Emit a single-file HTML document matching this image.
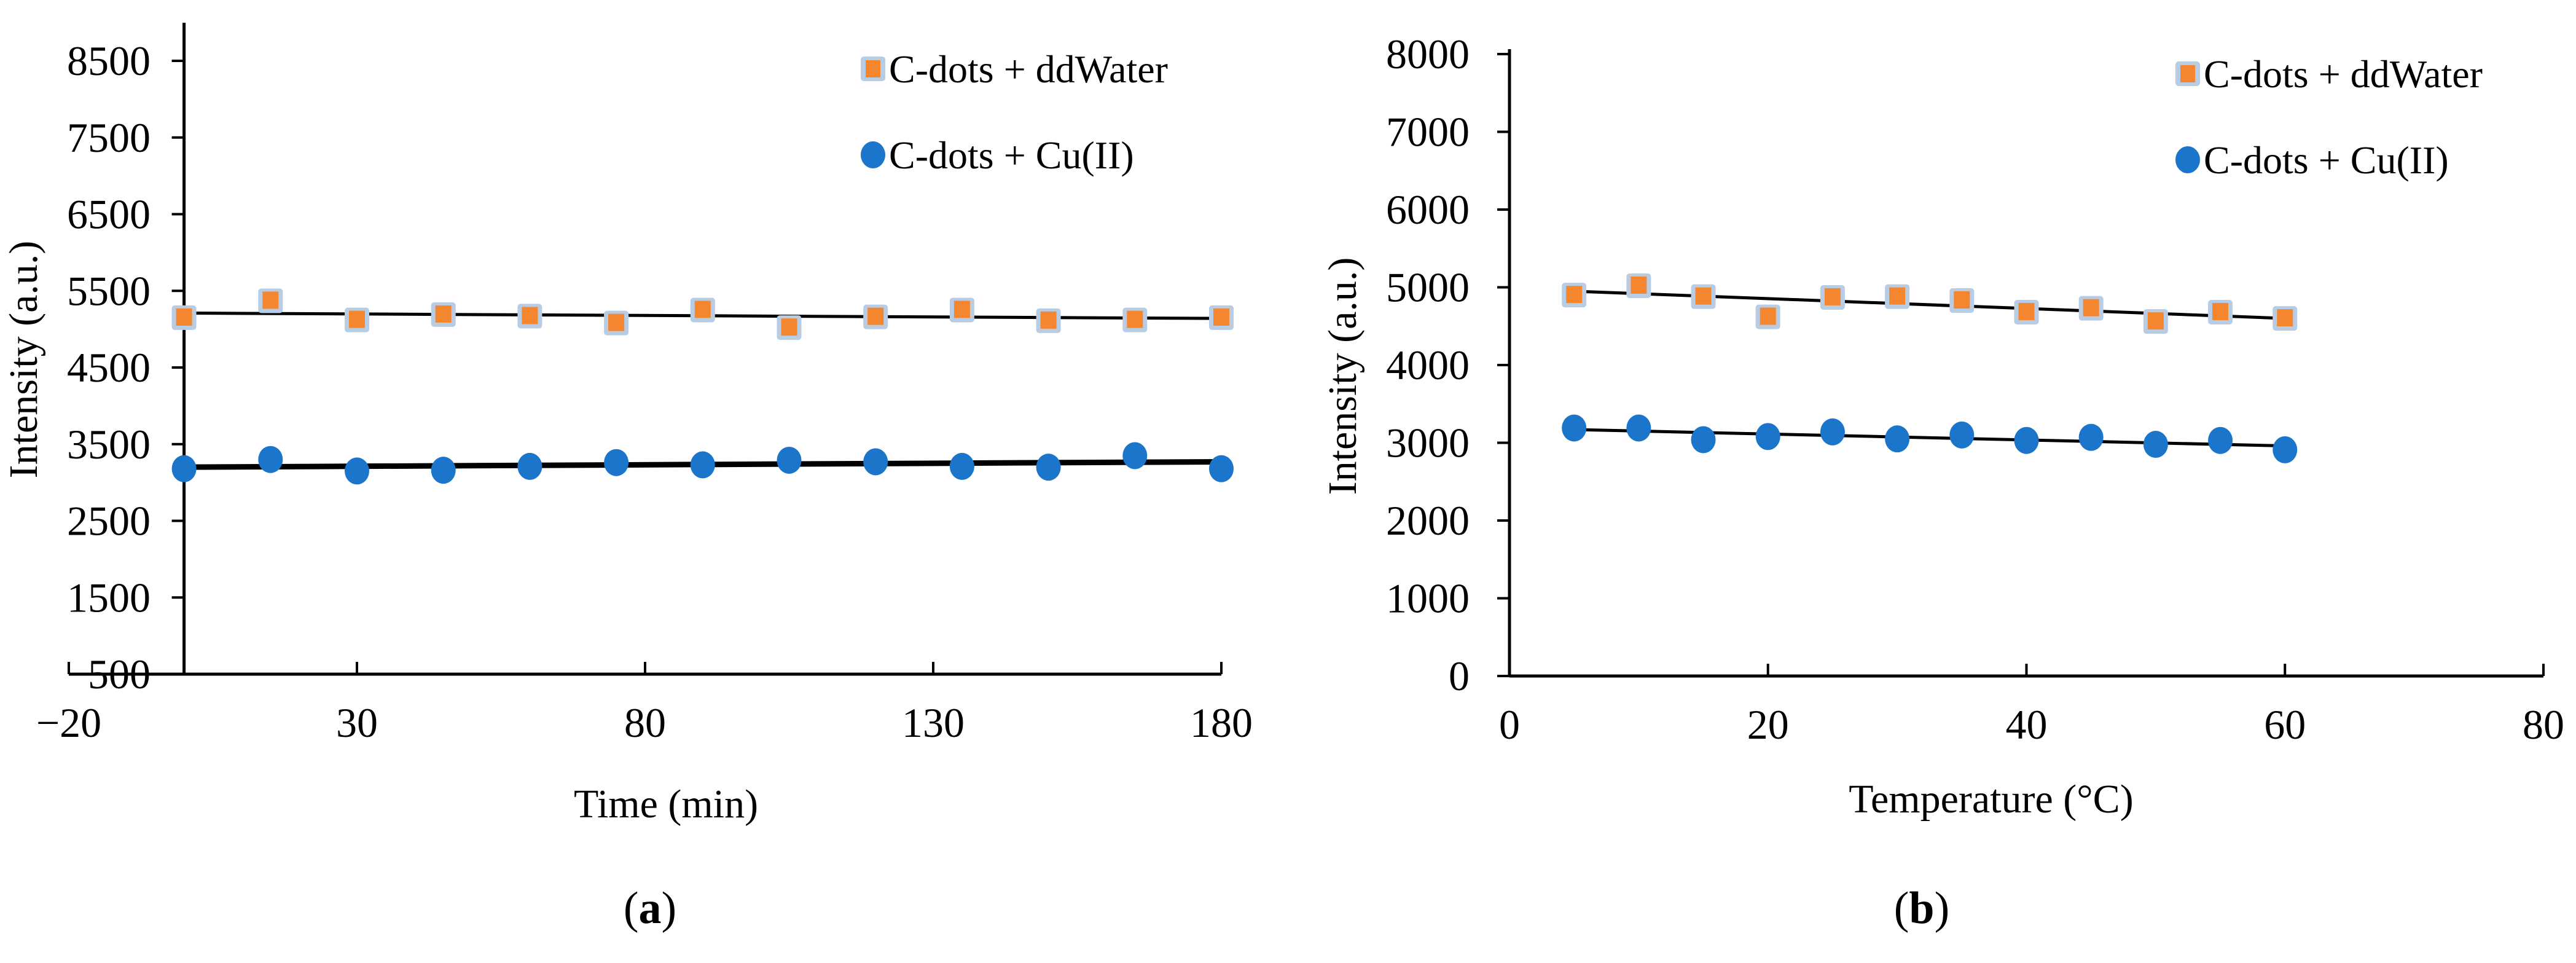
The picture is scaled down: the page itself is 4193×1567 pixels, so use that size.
<!DOCTYPE html>
<html><head><meta charset="utf-8"><style>
html,body{margin:0;padding:0;background:#fff;}
svg{display:block;}
text{font-family:"Liberation Serif","DejaVu Serif",serif;}
</style></head><body>
<svg id="fig" width="4193" height="1567" viewBox="0 0 4193 1567" xmlns="http://www.w3.org/2000/svg" font-family="Liberation Serif, serif">
</svg>
<script>
// ---- chart (a) data ----
const timeX = [0,15,30,45,60,75,90,105,120,135,150,165,180];
const timeWater = [5150,5370,5120,5190,5170,5080,5250,5020,5160,5250,5110,5120,5150];
const timeCu = [3180,3300,3150,3160,3210,3260,3230,3290,3270,3210,3200,3350,3180];
const timeWaterTrend = [5210,5140];
const timeCuTrend = [3200,3270];
const timeXTicks = [-20,30,80,130,180];
const timeYTicks = [500,1500,2500,3500,4500,5500,6500,7500,8500];
// ---- chart (b) data ----
const tempX = [5,10,15,20,25,30,35,40,45,50,55,60];
const tempWater = [4900,5020,4880,4620,4870,4880,4830,4680,4730,4560,4680,4600];
const tempCu = [3190,3190,3040,3080,3140,3050,3100,3030,3070,2980,3030,2910];
const tempWaterTrend = [4950,4600];
const tempCuTrend = [3170,2960];
const tempXTicks = [0,20,40,60,80];
const tempYTicks = [0,1000,2000,3000,4000,5000,6000,7000,8000];

const NS="http://www.w3.org/2000/svg";
const svg=document.getElementById('fig');
function mk(tag,attrs,parent){const e=document.createElementNS(NS,tag);for(const k in attrs)e.setAttribute(k,attrs[k]);(parent||svg).appendChild(e);return e;}
function txt(s,x,y,size,anchor,parent,extra){const t=mk('text',Object.assign({x:x,y:y,'font-size':size,'text-anchor':anchor||'middle',fill:'#000','font-family':'Liberation Serif, serif'},extra||{}),parent);t.textContent=s;return t;}

function chart(cfg){
  const g=mk('g',{});
  
  
  const sx=v=>cfg.x0+(v-cfg.xmin)/(cfg.xmax-cfg.xmin)*(cfg.x1-cfg.x0);
  const sy=v=>cfg.y0-(v-cfg.ymin)/(cfg.ymax-cfg.ymin)*(cfg.y0-cfg.y1);
  const xa=mk('line',{x1:sx(cfg.xmin),x2:sx(cfg.xmax),y1:cfg.y0,y2:cfg.y0,stroke:'#000','stroke-width':5},g);
  
  
  const ax=sx(cfg.yAxisAt);
  const ya=mk('line',{x1:ax,x2:ax,y1:cfg.yTop,y2:cfg.y0,stroke:'#000','stroke-width':5},g);
  
  
  cfg.xticks.forEach(v=>{
    mk('line',{x1:sx(v),x2:sx(v),y1:cfg.y0-20,y2:cfg.y0,stroke:'#000','stroke-width':4},g);
    const t=txt(String(v).replace('-','\u2212'),sx(v),cfg.y0+102,68,'middle',g);
    
    
  });
  cfg.yticks.forEach(v=>{
    mk('line',{x1:ax-20,x2:ax,y1:sy(v),y2:sy(v),stroke:'#000','stroke-width':4},g);
    const t=txt(String(v),cfg.ylabRight,sy(v)+23,68,'end',g);
    
    
  });
  const xs=cfg.xs;
  const tw=mk('line',{x1:sx(xs[0]),x2:sx(xs[xs.length-1]),y1:sy(cfg.wt[0]),y2:sy(cfg.wt[1]),stroke:'#000','stroke-width':5},g);
  
  
  const tc=mk('line',{x1:sx(xs[0]),x2:sx(xs[xs.length-1]),y1:sy(cfg.ct[0]),y2:sy(cfg.ct[1]),stroke:'#000','stroke-width':cfg.cuW},g);
  
  
  xs.forEach((x,i)=>{
    const h=mk('rect',{x:sx(x)-20,y:sy(cfg.w[i])-20,width:40,height:40,rx:5,fill:'#b8cce4'},g);
    
    
    const r=mk('rect',{x:sx(x)-13,y:sy(cfg.w[i])-15,width:26,height:28,fill:'#f58630'},g);
    
    
    const c=mk('ellipse',{cx:sx(x),cy:sy(cfg.c[i]),rx:20,ry:22,fill:'#1b75cb'},g);
    
    
  });
  const lh=mk('rect',{x:cfg.legX-20,y:cfg.legY1-20,width:40,height:40,rx:5,fill:'#b8cce4'},g);
  
  
  const ls=mk('rect',{x:cfg.legX-12,y:cfg.legY1-14,width:24,height:28,fill:'#f58630'},g);
  
  
  const l1=txt('C-dots + ddWater',cfg.legX+26,cfg.legY1+22,64,'start',g);
  
  
  const lc=mk('ellipse',{cx:cfg.legX,cy:cfg.legY2,rx:20,ry:22,fill:'#1b75cb'},g);
  
  
  const l2=txt('C-dots + Cu(II)',cfg.legX+26,cfg.legY2+22,64,'start',g);
  
  
  const yt=txt('Intensity (a.u.)',0,0,66,'middle',g,{transform:`translate(${cfg.ytX},${cfg.ytY}) rotate(-90)`});
  
  
  const xt=txt(cfg.xtitle,cfg.xtX,cfg.xtY,66,'middle',g);
  
  
  const cap=mk('text',{x:cfg.capX,y:1502,'font-size':74,'text-anchor':'middle',fill:'#000','font-family':'Liberation Serif, serif'},g);
  
  
  cap.innerHTML='(<tspan font-weight="bold">'+cfg.cap+'</tspan>)';
}

chart({name:'chart-a-time',xmin:-20,xmax:180,x0:112,x1:1988,ymin:500,ymax:8500,y0:1097,y1:99,yTop:37,yAxisAt:0,
  xticks:timeXTicks,yticks:timeYTicks,ylabRight:245,xs:timeX,w:timeWater,c:timeCu,wt:timeWaterTrend,ct:timeCuTrend,cuW:9,
  legX:1421,legY1:112,legY2:252,ytX:60,ytY:585,xtitle:'Time (min)',xtX:1084,xtY:1330,capX:1058,cap:'a'});
chart({name:'chart-b-temperature',xmin:0,xmax:80,x0:2457,x1:4140,ymin:0,ymax:8000,y0:1100,y1:88,yTop:80,yAxisAt:0,
  xticks:tempXTicks,yticks:tempYTicks,ylabRight:2392,xs:tempX,w:tempWater,c:tempCu,wt:tempWaterTrend,ct:tempCuTrend,cuW:5,
  legX:3561,legY1:120,legY2:260,ytX:2207,ytY:612,xtitle:'Temperature (°C)',xtX:3241,xtY:1322,capX:3128,cap:'b'});
</script>
</body></html>
